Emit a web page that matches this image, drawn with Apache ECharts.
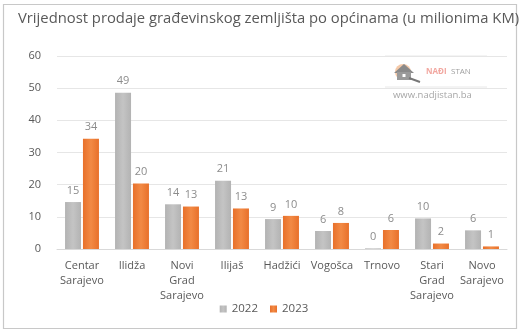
<!DOCTYPE html>
<html><head><meta charset="utf-8">
<script src="https://cdn.jsdelivr.net/npm/echarts@6/dist/echarts.min.js"></script>
<style>html,body{margin:0;padding:0;background:#fff}#c{width:528px;height:332px}</style>
</head><body><div id="c"></div>
<script>
const categories = ['Centar\nSarajevo','Ilidža','Novi\nGrad\nSarajevo','Ilijaš','Hadžići','Vogošca','Trnovo','Stari\nGrad\nSarajevo','Novo\nSarajevo'];
const values2022 = [14.6, 48.6, 13.9, 21.2, 9.3, 5.6, 0.2, 9.5, 5.8];
const values2023 = [34.3, 20.4, 13.2, 12.6, 10.3, 8.1, 5.9, 1.7, 0.8];
const yTicks = [0, 10, 20, 30, 40, 50, 60];
const seriesNames = ['2022', '2023'];
const title = 'Vrijednost prodaje građevinskog zemljišta po općinama (u milionima KM)';

const font = 'Open Sans';
const chart = echarts.init(document.getElementById('c'), null, {renderer: 'canvas'});
const grayGrad = new echarts.graphic.LinearGradient(0,0,1,0,[{offset:0,color:'#b3b3b3'},{offset:0.5,color:'#c4c4c4'},{offset:1,color:'#b3b3b3'}]);
const orGrad = new echarts.graphic.LinearGradient(0,0,1,0,[{offset:0,color:'#e8702a'},{offset:0.5,color:'#f28a45'},{offset:1,color:'#e8702a'}]);
const lbl = {show:true, position:'top', distance:6, color:'#8c8c8c', fontSize:11, fontFamily:font, formatter:p=>Math.round(p.value)};
chart.setOption({
  animation:false,
  title:{text:title, left:13, top:6, textStyle:{fontFamily:font, fontSize:14.8, fontWeight:'normal', color:'#595959'}},
  legend:{data:seriesNames, bottom:12, left:'center', itemWidth:7, itemHeight:7, itemGap:12,
    textStyle:{fontFamily:font, fontSize:11.5, color:'#595959'}, icon:'rect'},
  grid:{left:57, right:21, top:56, bottom:83, containLabel:false},
  xAxis:{type:'category', data:categories,
    axisLine:{lineStyle:{color:'#d9d9d9'}}, axisTick:{show:false},
    axisLabel:{interval:0, color:'#595959', fontFamily:font, fontSize:11, lineHeight:15, margin:9}},
  yAxis:{type:'value', min:0, max:60, interval:10,
    axisLabel:{color:'#595959', fontFamily:font, fontSize:11, margin:16, formatter:v=>yTicks.includes(v)?v:''},
    splitLine:{lineStyle:{color:'#e6e6e6'}}, axisLine:{show:false}, axisTick:{show:false}},
  series:[
    {name:seriesNames[0], type:'bar', data:values2022, barWidth:16, barGap:'12%', itemStyle:{color:grayGrad}, label:lbl},
    {name:seriesNames[1], type:'bar', data:values2023, barWidth:16, itemStyle:{color:orGrad}, label:lbl}
  ],
  color:['#bfbfbf','#ed7d31'],
  graphic:[
    {type:'rect', shape:{x:3.5,y:4.5,width:513,height:324}, style:{fill:null, stroke:'#c8c8c8', lineWidth:1.2}, silent:true},
    {type:'line', shape:{x1:385,y1:56,x2:487,y2:56}, style:{stroke:'#e8e8e8', lineWidth:1}},
    {type:'line', shape:{x1:385,y1:87,x2:487,y2:87}, style:{stroke:'#e8e8e8', lineWidth:1}},
    {type:'circle', shape:{cx:403,cy:72,r:8}, style:{fill:'#f5c9a8'}},
    {type:'polygon', shape:{points:[[394,73],[404,64],[414,73]]}, style:{fill:'#8a8a8a'}},
    {type:'rect', shape:{x:397,y:72,width:14,height:8}, style:{fill:'#9a9a9a'}},
    {type:'rect', shape:{x:402.5,y:74,width:3,height:3}, style:{fill:'#fff'}},
    {type:'line', shape:{x1:409,y1:78,x2:420,y2:82}, style:{stroke:'#777', lineWidth:2}},
    {type:'text', x:426, y:68, style:{text:'NAĐI', fill:'#f2a7a0', font:'bold 8px "Open Sans"'}},
    {type:'text', x:451, y:68, style:{text:'STAN', fill:'#a0a0a0', font:'8px "Open Sans"'}},
    {type:'text', x:393, y:90, style:{text:'www.nadjistan.ba', fill:'#a6a6a6', font:'9.5px "Open Sans"'}}
  ]
});
</script></body></html>
